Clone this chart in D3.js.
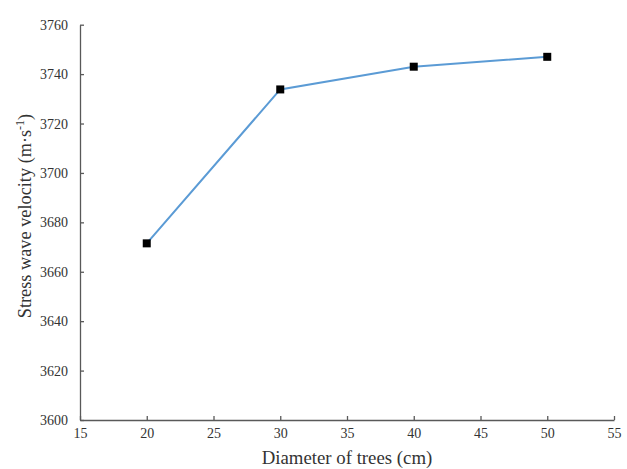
<!DOCTYPE html>
<html>
<head>
<meta charset="utf-8">
<script src="https://cdn.jsdelivr.net/npm/d3@7"></script>
<style>
  body { margin: 0; background: #fff; }
  svg text { font-family: "Liberation Serif", "Times New Roman", serif; fill: #333; }
</style>
</head>
<body>
<svg id="chart" width="627" height="469"></svg>
<script>
// values
var diameters = [ 20, 30, 40, 50 ];
var velocities = [ 3671.5, 3733.8, 3743.0, 3747.0 ];
var xTicks = [ 15, 20, 25, 30, 35, 40, 45, 50, 55 ];
var yTicks = [ 3600, 3620, 3640, 3660, 3680, 3700, 3720, 3740, 3760 ];

var svg = d3.select( "#chart" );
var plotLeft = 80, plotRight = 614, plotTop = 24.7, plotBottom = 420;

var x = d3.scaleLinear().domain( [ 15, 55 ] ).range( [ plotLeft, plotRight ] );
var y = d3.scaleLinear().domain( [ 3600, 3760 ] ).range( [ plotBottom, plotTop ] );

// axes, ticks pointing inward
var xAxis = svg.append( "g" )
    .attr( "transform", "translate(0," + plotBottom + ")" )
    .call( d3.axisBottom( x ).tickValues( xTicks ).tickFormat( d3.format( "d" ) )
        .tickSizeInner( -4 ).tickSizeOuter( 0 ).tickPadding( 8 ) );
var yAxis = svg.append( "g" )
    .attr( "transform", "translate(" + plotLeft + ",0)" )
    .call( d3.axisLeft( y ).tickValues( yTicks ).tickFormat( d3.format( "d" ) )
        .tickSizeInner( -4 ).tickSizeOuter( 0 ).tickPadding( 12 ) );

[ xAxis, yAxis ].forEach( function ( g ) {
    g.selectAll( "path, line" ).attr( "stroke", "#595959" ).attr( "stroke-width", 1.3 );
    g.selectAll( "text" ).attr( "font-size", 14 ).attr( "fill", "#333" )
        .style( "font-family", "'Liberation Serif', serif" );
} );

// line
var line = d3.line()
    .x( function ( d, i ) { return x( diameters[ i ] ); } )
    .y( function ( d ) { return y( d ); } );

svg.append( "path" )
    .datum( velocities )
    .attr( "d", line )
    .attr( "fill", "none" )
    .attr( "stroke", "#5B9BD5" )
    .attr( "stroke-width", 2 );

// square markers
svg.selectAll( "rect.pt" )
    .data( velocities )
    .enter()
    .append( "rect" )
    .attr( "class", "pt" )
    .attr( "x", function ( d, i ) { return x( diameters[ i ] ) - 4; } )
    .attr( "y", function ( d ) { return y( d ) - 4; } )
    .attr( "width", 8 )
    .attr( "height", 8 )
    .attr( "fill", "#000" );

// axis titles
svg.append( "text" )
    .attr( "x", 347 )
    .attr( "y", 464 )
    .attr( "text-anchor", "middle" )
    .attr( "font-size", 18.8 )
    .text( "Diameter of trees (cm)" );

var yt = svg.append( "text" )
    .attr( "transform", "translate(31,216) rotate(-90)" )
    .attr( "text-anchor", "middle" )
    .attr( "font-size", 18.3 );
yt.append( "tspan" ).text( "Stress wave velocity (m·s" );
yt.append( "tspan" ).attr( "dy", -7 ).attr( "font-size", 12 ).text( "-1" );
yt.append( "tspan" ).attr( "dy", 7 ).text( ")" );
</script>
</body>
</html>
